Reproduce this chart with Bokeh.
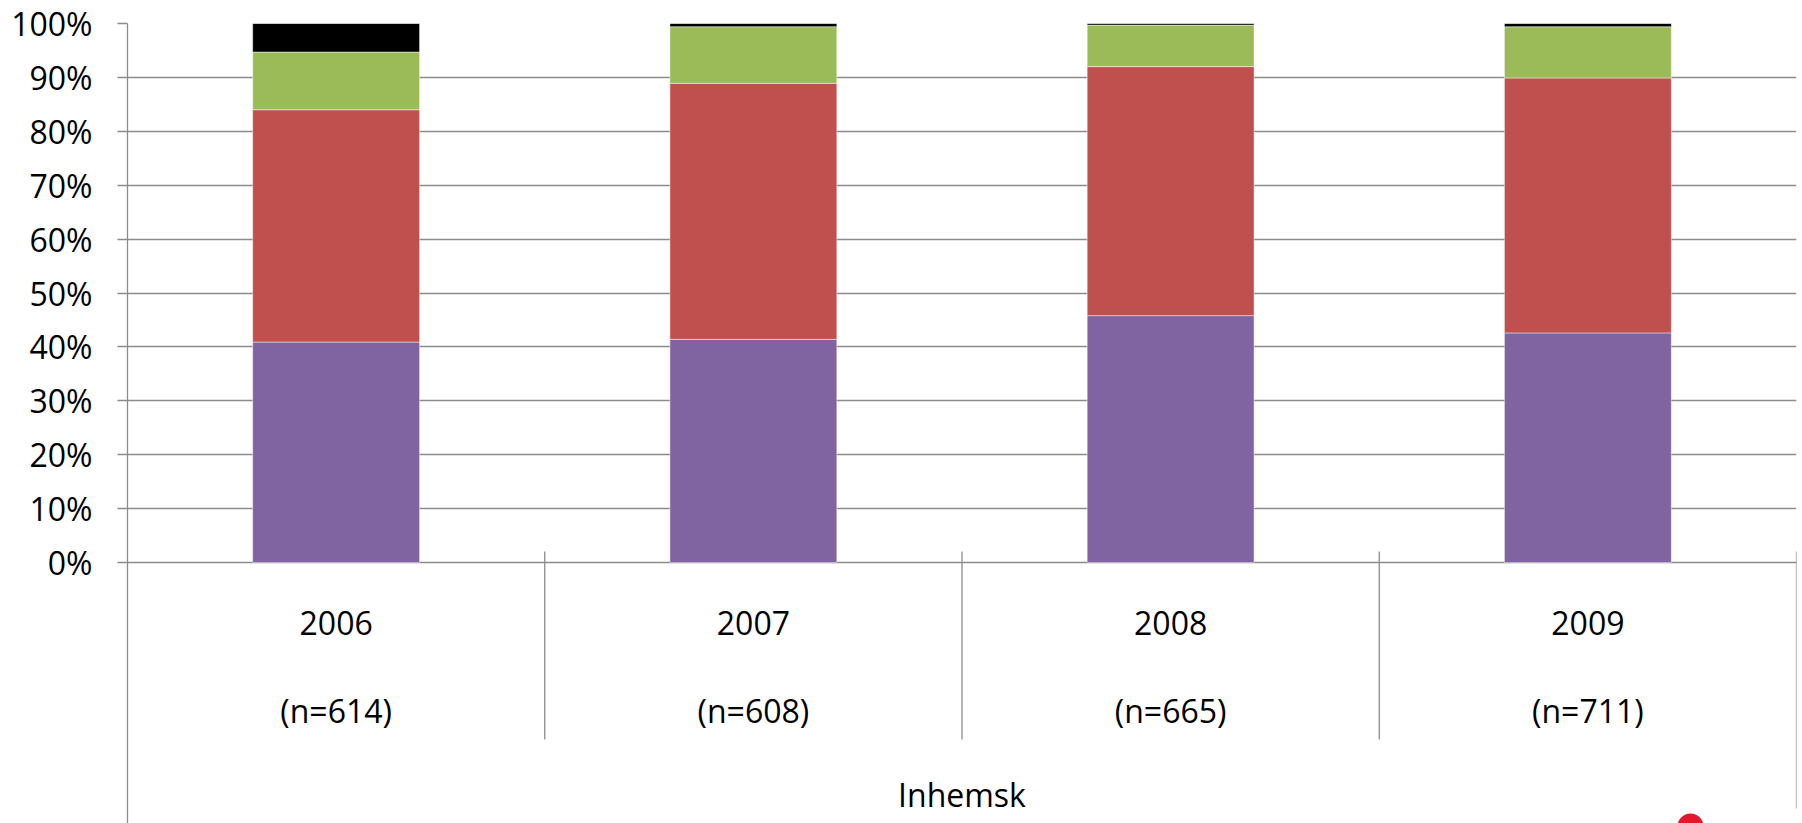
from bokeh.plotting import figure
from bokeh.models import ColumnDataSource, FixedTicker, Range1d
from bokeh.core.properties import value
from bokeh.embed import file_html
from bokeh.resources import INLINE

# ---- data ----
years = ["2006", "2007", "2008", "2009"]
n_labels = ["(n=614)", "(n=608)", "(n=665)", "(n=711)"]
group_label = "Inhemsk"
purple = [40.9, 41.4, 45.8, 42.6]
red = [43.1, 47.5, 46.2, 47.3]
green = [10.7, 10.5, 7.7, 9.5]
black = [5.3, 0.6, 0.3, 0.6]
y_ticks = [0, 10, 20, 30, 40, 50, 60, 70, 80, 90, 100]
y_tick_labels = ["0%", "10%", "20%", "30%", "40%", "50%", "60%", "70%", "80%", "90%", "100%"]

# ---- layout constants ----
W, H = 1802, 823
LEFT, RIGHT, TOP = 127, 6, 23
PX_PER_UNIT = 539 / 100.0  # pixels per percent
frame_h = H - TOP
y_start = 100 - frame_h / PX_PER_UNIT

def below(px):
    return -px / PX_PER_UNIT

FONT = value("Open Sans")
FS = "32px"
GRID = "#8c8c8c"

n = len(years)
x_centers = [i + 0.5 for i in range(n)]
src = ColumnDataSource(dict(x=x_centers, purple=purple, red=red, green=green, black=black,
                            year=years, nlab=n_labels))

p = figure(width=W, height=H, x_range=Range1d(0, n), y_range=Range1d(y_start, 100),
           output_backend="svg", toolbar_location=None, title=None,
           min_border_left=LEFT, min_border_right=RIGHT, min_border_top=TOP, min_border_bottom=0)
p.outline_line_color = None
p.background_fill_color = "white"
p.border_fill_color = "white"

p.vbar_stack(["purple", "red", "green", "black"], x="x", width=0.4,
             color=["#8064A2", "#C0504D", "#9BBB59", "#000000"],
             line_color="white", line_alpha=0.45, line_width=1, source=src)

# axes
p.xaxis.visible = False
p.xgrid.grid_line_color = None
p.yaxis.ticker = FixedTicker(ticks=y_ticks)
p.yaxis.major_label_overrides = {t: lab for t, lab in zip(y_ticks, y_tick_labels)}
p.yaxis.axis_line_color = GRID
p.yaxis.axis_line_width = 1.3
p.yaxis.major_tick_line_color = GRID
p.yaxis.major_tick_line_width = 1.3
p.yaxis.major_tick_out = 10
p.yaxis.major_tick_in = 0
p.yaxis.minor_tick_line_color = None
p.yaxis.major_label_standoff = 25
p.yaxis.major_label_text_font = "Open Sans"
p.yaxis.major_label_text_font_size = FS
p.yaxis.major_label_text_color = "black"
p.ygrid.ticker = FixedTicker(ticks=y_ticks)
p.ygrid.grid_line_color = GRID
p.ygrid.grid_line_width = 1.3

# category separators
bounds = list(range(1, n + 1))
seg_top = 11 / PX_PER_UNIT
seg_bottom = [below(177)] * (n - 1) + [below(246)]
p.segment(x0=bounds, x1=bounds, y0=[seg_top] * n, y1=seg_bottom,
          line_color=GRID, line_width=1.3)

# category labels
p.text(x="x", y=below(60), text="year", source=src, text_font=FONT,
       text_font_size=FS, text_color="black", text_align="center", text_baseline="middle")
p.text(x="x", y=below(148), text="nlab", source=src, text_font=FONT,
       text_font_size=FS, text_color="black", text_align="center", text_baseline="middle")
p.text(x=[n / 2], y=[below(232)], text=[group_label], text_font=FONT,
       text_font_size=FS, text_color="black", text_align="center", text_baseline="middle")

# partial logo dot at the bottom edge
p.scatter(x=[(1690 - LEFT) / ((W - LEFT - RIGHT) / n)], y=[below(264)], size=26,
          marker="circle", fill_color="#e3172d", line_color=None)

open("out.html", "w").write(file_html(p, INLINE))
